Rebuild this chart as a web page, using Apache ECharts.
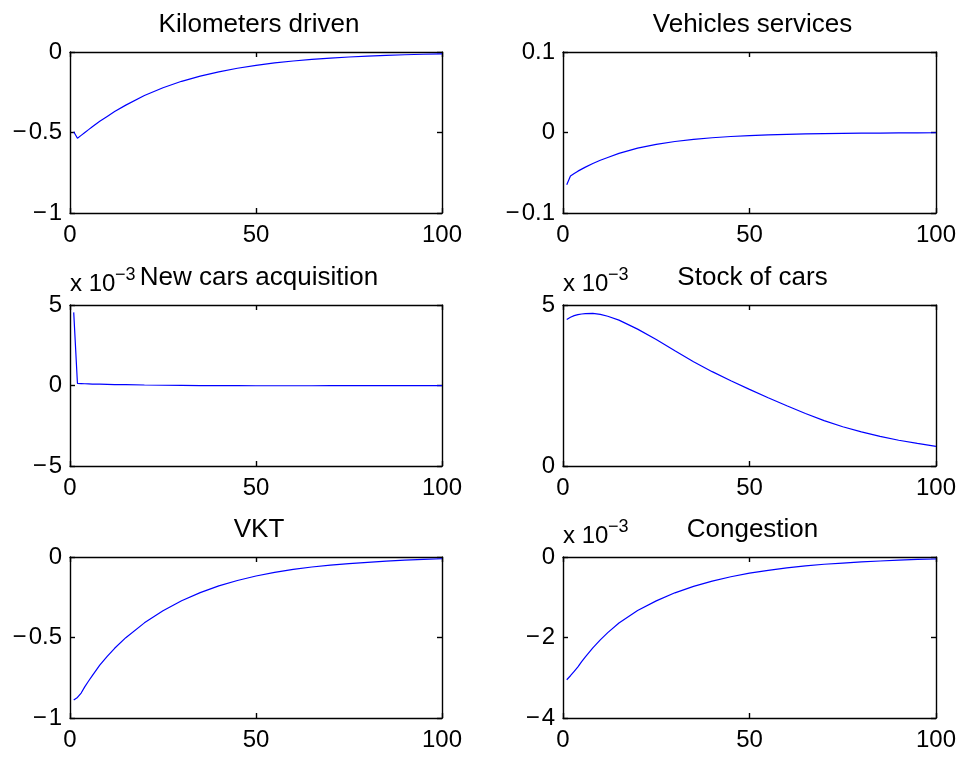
<!DOCTYPE html>
<html>
<head>
<meta charset="utf-8">
<script src="https://cdn.jsdelivr.net/npm/echarts@6/dist/echarts.min.js"></script>
<style>
  html, body { margin: 0; padding: 0; background: #fff; }
  #chart { width: 963px; height: 757px; }
</style>
</head>
<body>
<div id="chart"></div>
<script>
// Impulse responses, horizons 1..100 (sampled)
const horizons = [1, 2, 3, 4, 5, 6, 8, 10, 12, 15, 20, 25, 30, 35, 40, 45, 50, 55, 60, 65, 70, 75, 80, 85, 90, 95, 100];

const kilometersDriven = [-0.495, -0.536, -0.518, -0.500, -0.482, -0.464, -0.430, -0.400, -0.370, -0.330, -0.270, -0.222, -0.182, -0.150, -0.123, -0.101, -0.083, -0.068, -0.056, -0.046, -0.038, -0.031, -0.026, -0.021, -0.017, -0.014, -0.012];

const vehiclesServices = [-0.065, -0.054, -0.051, -0.048, -0.0455, -0.043, -0.0385, -0.0345, -0.031, -0.026, -0.0195, -0.0148, -0.0112, -0.0085, -0.0065, -0.005, -0.0038, -0.003, -0.0023, -0.0018, -0.0014, -0.0011, -0.0009, -0.0007, -0.0005, -0.0004, -0.0003];

const newCarsAcquisition = [0.00454, 0.00013, 0.00012, 0.00011, 0.00010, 0.00009, 0.00008, 0.00007, 0.00006, 0.00005, 0.00003, 0.000015, 0.000005, -0.000005, -0.00001, -0.000013, -0.000015, -0.000015, -0.000015, -0.000014, -0.000012, -0.000011, -0.00001, -0.000008, -0.000006, -0.000005, -0.000004];

const stockOfCars = [0.00455, 0.00462, 0.00467, 0.00470, 0.00472, 0.00473, 0.00474, 0.00471, 0.00465, 0.00453, 0.00425, 0.00393, 0.00358, 0.00324, 0.00293, 0.00265, 0.00238, 0.00212, 0.00187, 0.00163, 0.00141, 0.00122, 0.00106, 0.00092, 0.00080, 0.00070, 0.00061];

const vkt = [-0.888, -0.872, -0.845, -0.805, -0.770, -0.737, -0.672, -0.617, -0.567, -0.501, -0.409, -0.334, -0.272, -0.221, -0.179, -0.146, -0.118, -0.095, -0.077, -0.062, -0.050, -0.041, -0.033, -0.026, -0.020, -0.015, -0.011];

const congestion = [-0.00305, -0.00295, -0.00284, -0.00273, -0.00260, -0.00248, -0.00226, -0.00206, -0.00188, -0.00164, -0.00133, -0.00109, -0.00089, -0.00073, -0.00060, -0.00049, -0.00040, -0.00033, -0.00027, -0.00022, -0.00018, -0.00015, -0.00012, -0.00010, -0.00008, -0.00006, -0.00005];

// Panel titles and axis settings
const panelTitles = ['Kilometers driven', 'Vehicles services', 'New cars acquisition', 'Stock of cars', 'VKT', 'Congestion'];
const panelSeries = [kilometersDriven, vehiclesServices, newCarsAcquisition, stockOfCars, vkt, congestion];
const yMin = [-1, -0.1, -0.005, 0, -1, -0.004];
const yMax = [0, 0.1, 0.005, 0.005, 0, 0];
const yStep = [0.5, 0.1, 0.005, 0.005, 0.5, 0.002];
const yScale = [1, 1, 1e3, 1e3, 1, 1e3];   // tick labels shown as x 10^-3 where scaled
const xTicks = [0, 50, 100];

const FONT = '"Liberation Sans", Arial, Helvetica, sans-serif';
const colLeft = [70, 563];
const colWidth = [372, 373];
const rowTop = [52, 305, 557];
const plotHeight = 161;

function fmt(v, scale) {
  const s = Math.round(v * scale * 1e6) / 1e6;
  return String(s).replace('-', '\u2212\u200A');
}

const grids = [], xAxes = [], yAxes = [], series = [], graphics = [];
const black = '#000';
const lineStyleAxis = { color: black, width: 1.4 };

for (let i = 0; i < 6; i++) {
  const col = i % 2, row = Math.floor(i / 2);
  grids.push({ left: colLeft[col], top: rowTop[row], width: colWidth[col], height: plotHeight, containLabel: false });

  const xCommon = {
    type: 'value', gridIndex: i, min: xTicks[0], max: xTicks[xTicks.length - 1], interval: 50,
    axisLine: { show: true, onZero: false, lineStyle: lineStyleAxis },
    axisTick: { show: true, inside: true, length: 5, lineStyle: lineStyleAxis },
    splitLine: { show: false }
  };
  xAxes.push(Object.assign({}, xCommon, {
    position: 'bottom',
    axisLabel: { show: true, color: black, fontSize: 24, fontFamily: FONT, margin: 10 }
  }));
  xAxes.push(Object.assign({}, xCommon, { position: 'top', axisLabel: { show: false } }));

  const yCommon = {
    type: 'value', gridIndex: i, min: yMin[i], max: yMax[i], interval: yStep[i],
    axisLine: { show: true, onZero: false, lineStyle: lineStyleAxis },
    axisTick: { show: true, inside: true, length: 5, lineStyle: lineStyleAxis },
    splitLine: { show: false }
  };
  const sc = yScale[i];
  yAxes.push(Object.assign({}, yCommon, {
    position: 'left',
    axisLabel: {
      show: true, color: black, fontSize: 24, fontFamily: FONT, margin: 8,
      padding: [7, 0, 0, 0],
      formatter: v => fmt(v, sc)
    }
  }));
  yAxes.push(Object.assign({}, yCommon, { position: 'right', axisLabel: { show: false } }));

  series.push({
    type: 'line', xAxisIndex: 2 * i, yAxisIndex: 2 * i,
    data: horizons.map((h, k) => [h, panelSeries[i][k]]),
    showSymbol: false, symbol: 'none',
    lineStyle: { color: '#0000ff', width: 1.2 },
    silent: true, animation: false
  });

  // Panel title
  graphics.push({
    type: 'text', silent: true,
    style: {
      text: panelTitles[i], x: colLeft[col] + colWidth[col] / 2 + 3, y: rowTop[row] - 27,
      align: 'center', verticalAlign: 'middle', font: '26px ' + FONT, fill: black
    }
  });

  // Exponent note for scaled axes
  if (sc !== 1) {
    graphics.push({
      type: 'text', silent: true,
      style: {
        text: 'x 10', x: colLeft[col], y: rowTop[row] - 21,
        align: 'left', verticalAlign: 'middle', font: '24px ' + FONT, fill: black
      }
    });
    graphics.push({
      type: 'text', silent: true,
      style: {
        text: '\u22123', x: colLeft[col] + 45, y: rowTop[row] - 30,
        align: 'left', verticalAlign: 'middle', font: '18px ' + FONT, fill: black
      }
    });
  }
}

const chart = echarts.init(document.getElementById('chart'), null, { renderer: 'canvas' });
chart.setOption({
  backgroundColor: '#fff',
  animation: false,
  grid: grids,
  xAxis: xAxes,
  yAxis: yAxes,
  series: series,
  graphic: graphics
});
</script>
</body>
</html>
